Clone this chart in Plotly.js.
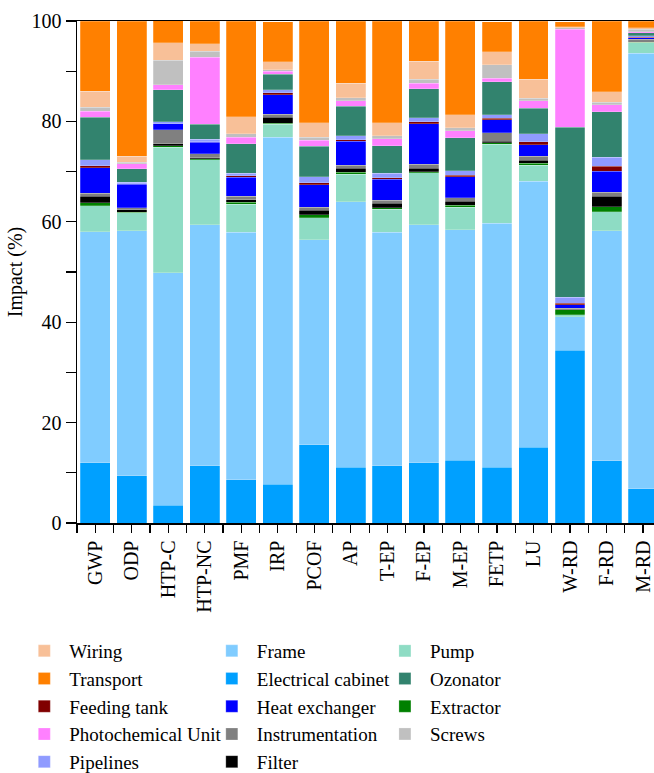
<!DOCTYPE html>
<html>
<head>
<meta charset="utf-8">
<script src="https://cdn.plot.ly/plotly-3.0.1.min.js"></script>
<style>html,body{margin:0;padding:0;background:#fff;}#chart{width:654px;height:773px;}</style>
</head>
<body>
<div id="chart"></div>
<script>
const categories = ["GWP","ODP","HTP-C","HTP-NC","PMF","IRP","PCOF","AP","T-EP","F-EP","M-EP","FETP","LU","W-RD","F-RD","M-RD"];
const yTicks = [0,20,40,60,80,100];

const electricalCabinet = [12.0, 9.4, 3.5, 11.4, 8.6, 7.7, 15.6, 11.1, 11.4, 12.0, 12.5, 11.1, 15.1, 34.4, 12.4, 6.8];
const frame             = [46.0, 48.8, 46.4, 48.0, 49.3, 69.1, 40.8, 52.9, 46.5, 47.4, 45.9, 48.6, 53.0, 6.7, 45.8, 86.8];
const pump              = [5.2, 3.6, 25.0, 13.0, 5.6, 2.6, 4.4, 5.5, 4.6, 10.4, 4.5, 15.7, 3.2, 0.4, 3.8, 2.1];
const extractor         = [0.6, 0.1, 0.3, 0.2, 0.4, 0.2, 0.6, 0.4, 0.3, 0.2, 0.4, 0.3, 0.4, 1.0, 1.0, 0.05];
const filter            = [1.3, 0.5, 0.3, 0.2, 0.5, 1.2, 0.9, 0.8, 0.9, 0.7, 0.8, 0.3, 0.6, 0.1, 2.1, 0.05];
const instrumentation   = [0.6, 0.4, 2.8, 0.8, 0.7, 0.6, 0.6, 0.6, 0.6, 0.8, 0.7, 1.7, 0.8, 0.2, 0.8, 0.6];
const heatExchanger     = [5.1, 4.7, 1.2, 2.2, 3.8, 3.9, 4.5, 4.7, 4.2, 8.0, 4.2, 2.6, 2.2, 0.7, 4.2, 0.3];
const feedingTank       = [0.4, 0.1, 0.05, 0.1, 0.3, 0.4, 0.4, 0.3, 0.3, 0.4, 0.3, 0.3, 0.6, 0.3, 1.0, 0.1];
const pipelines         = [1.2, 0.3, 0.4, 0.5, 0.5, 0.6, 1.2, 0.8, 0.9, 0.8, 0.9, 0.7, 1.6, 1.2, 1.8, 0.3];
const ozonator          = [8.4, 2.7, 6.4, 3.0, 5.8, 3.1, 6.1, 5.9, 5.5, 5.8, 6.5, 6.6, 5.1, 33.8, 9.0, 0.6];
const photochemicalUnit = [1.2, 1.0, 1.0, 13.4, 1.3, 0.6, 1.1, 1.1, 1.3, 1.1, 1.4, 0.7, 1.5, 19.6, 1.4, 0.2];
const screws            = [0.8, 0.3, 4.8, 1.2, 0.7, 0.3, 0.6, 0.6, 0.6, 0.8, 0.6, 2.7, 0.5, 0.3, 0.5, 0.5];
const wiring            = [3.2, 1.2, 3.5, 1.5, 3.4, 1.6, 2.9, 2.9, 2.6, 3.6, 2.6, 2.6, 3.8, 0.2, 2.1, 0.3];
const transport         = [14.0, 26.9, 4.4, 4.5, 19.1, 8.0, 20.3, 12.4, 20.3, 8.0, 18.7, 6.0, 11.6, 1.0, 14.1, 1.3];

// stacking order bottom -> top
const series = [
  {name:"Electrical cabinet", y:electricalCabinet, color:"#00A0FF", legend:"legend2", rank:2},
  {name:"Frame", y:frame, color:"#80CCFF", legend:"legend2", rank:1},
  {name:"Pump", y:pump, color:"#8EDCC4", legend:"legend3", rank:1},
  {name:"Extractor", y:extractor, color:"#008000", legend:"legend3", rank:3},
  {name:"Filter", y:filter, color:"#000000", legend:"legend2", rank:5},
  {name:"Instrumentation", y:instrumentation, color:"#808080", legend:"legend2", rank:4},
  {name:"Heat exchanger", y:heatExchanger, color:"#0000FF", legend:"legend2", rank:3},
  {name:"Feeding tank", y:feedingTank, color:"#800000", legend:"legend", rank:3},
  {name:"Pipelines", y:pipelines, color:"#8F9BFF", legend:"legend", rank:5},
  {name:"Ozonator", y:ozonator, color:"#32836E", legend:"legend3", rank:2},
  {name:"Photochemical Unit", y:photochemicalUnit, color:"#FF80FF", legend:"legend", rank:4},
  {name:"Screws", y:screws, color:"#C0C0C0", legend:"legend3", rank:4},
  {name:"Wiring", y:wiring, color:"#F8C098", legend:"legend", rank:1},
  {name:"Transport", y:transport, color:"#FF8000", legend:"legend", rank:2}
];

const xIdx = categories.map((c,i)=>i);
const traces = series.map(s => ({
  type:"bar", name:s.name, x:xIdx, y:s.y,
  marker:{color:s.color, line:{width:0.5, color:"rgba(255,255,255,0.45)"}},
  legend:s.legend, legendrank:s.rank,
  hoverinfo:"name+y"
}));

const fontFam = "Liberation Serif";
function legendAt(xPos) {
  return {
    orientation:"v", yref:"container", yanchor:"top", y:0.1824, xanchor:"left", x:xPos,
    font:{family:"Liberation Serif", size:19, color:"#000000"},
    bgcolor:"rgba(0,0,0,0)", itemwidth:40, tracegroupgap:0, traceorder:"normal"
  };
}

const layout = {
  width:654, height:773,
  margin:{l:77, r:0, t:21, b:250},
  paper_bgcolor:"#fff", plot_bgcolor:"#fff",
  barmode:"stack", bargap:0.18,
  font:{family:fontFam, size:20, color:"#000"},
  xaxis:{
    automargin:false,
    range:[-0.5, 15.3], tickvals:xIdx, ticktext:categories, tickangle:-90,
    showline:true, linecolor:"#000", linewidth:1.5, mirror:true,
    ticks:"outside", ticklen:8, tickwidth:1.2, tickcolor:"#000",
    minor:{dtick:0.5, tick0:0, ticks:"outside", ticklen:8, tickwidth:1.2, tickcolor:"#000"},
    showgrid:false, zeroline:false,
    tickfont:{family:fontFam, size:20, color:"#000"}
  },
  yaxis:{
    automargin:true,
    range:[0,100], tickvals:yTicks, ticktext:yTicks.map(String),
    showline:true, linecolor:"#000", linewidth:1.5,
    ticks:"outside", ticklen:10, tickwidth:1.2, tickcolor:"#000",
    minor:{dtick:10, tick0:0, ticks:"outside", ticklen:10, tickwidth:1.2, tickcolor:"#000"},
    showgrid:false, zeroline:false,
    title:{text:"Impact (%)", font:{family:fontFam, size:20, color:"#000"}, standoff:3},
    tickfont:{family:fontFam, size:20, color:"#000"}
  },
  legend: legendAt(-0.1),
  legend2: legendAt(0.225),
  legend3: legendAt(0.525),
  showlegend:true
};

Plotly.newPlot("chart", traces, layout, {displayModeBar:false, staticPlot:true});
</script>
</body>
</html>
